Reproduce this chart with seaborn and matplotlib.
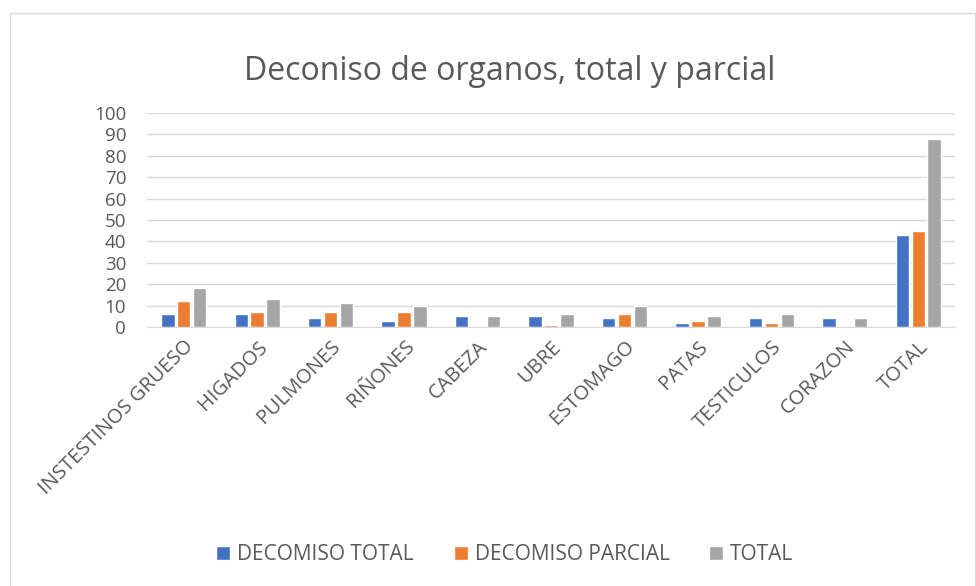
import pandas as pd
import seaborn as sns
import matplotlib.pyplot as plt
from matplotlib.patches import Rectangle

# datos
organos = ['INSTESTINOS GRUESO', 'HIGADOS', 'PULMONES', 'RIÑONES', 'CABEZA', 'UBRE',
           'ESTOMAGO', 'PATAS', 'TESTICULOS', 'CORAZON', 'TOTAL']
decomiso_total = [6, 6, 4, 3, 5, 5, 4, 2, 4, 4, 43]
decomiso_parcial = [12, 7, 7, 7, 0, 1, 6, 3, 2, 0, 45]
total = [18, 13, 11, 10, 5, 6, 10, 5, 6, 4, 88]
series = ['DECOMISO TOTAL', 'DECOMISO PARCIAL', 'TOTAL']
colores = ['#4472C4', '#ED7D31', '#A5A5A5']

df = pd.DataFrame({'organo': organos, series[0]: decomiso_total,
                   series[1]: decomiso_parcial, series[2]: total})
df = df.melt(id_vars='organo', var_name='serie', value_name='valor')

sns.set_style('white')
plt.rcParams['font.family'] = ['Open Sans', 'DejaVu Sans']
texto = '#595959'

fig = plt.figure(figsize=(9.76, 5.86), dpi=100)
ax = fig.add_axes([147 / 976, 1 - 327 / 586, (955 - 147) / 976, (327 - 113) / 586])

sns.barplot(data=df, x='organo', y='valor', hue='serie', hue_order=series,
            palette=colores, width=0.65, gap=0.15, ax=ax, saturation=1)

ax.set_ylim(0, 100)
ax.set_yticks(range(0, 101, 10))
ax.yaxis.grid(True, color='#D9D9D9', linewidth=1)
ax.set_axisbelow(True)
for s in ['top', 'right', 'left']:
    ax.spines[s].set_visible(False)
ax.spines['bottom'].set_color('#D9D9D9')
ax.tick_params(axis='y', length=0, labelsize=13.5, labelcolor=texto, pad=15)
ax.tick_params(axis='x', length=0, labelsize=14.5, labelcolor=texto, pad=7)
plt.setp(ax.get_xticklabels(), rotation=45, ha='right', rotation_mode='anchor')
ax.set_xlabel('')
ax.set_ylabel('')
ax.set_xlim(-0.5, len(organos) - 0.5)

fig.suptitle('Deconiso de organos, total y parcial', x=510 / 976, y=1 - 71 / 586,
             va='center', fontsize=23, color=texto)

ax.legend_.remove()
handles, labels = ax.get_legend_handles_labels()
fig.legend(handles, labels, loc='center', bbox_to_anchor=(505 / 976, 1 - 555 / 586),
           ncol=3, frameon=False, fontsize=15, labelcolor=texto, handlelength=0.67,
           handleheight=0.67, handletextpad=0.34, columnspacing=1.9)

fig.patches.append(Rectangle((10 / 976, -0.01), 965 / 976, 1 - 13 / 586 + 0.01,
                             transform=fig.transFigure, fill=False,
                             edgecolor='#D9D9D9', linewidth=1))

plt.savefig('out.png', dpi=100)
